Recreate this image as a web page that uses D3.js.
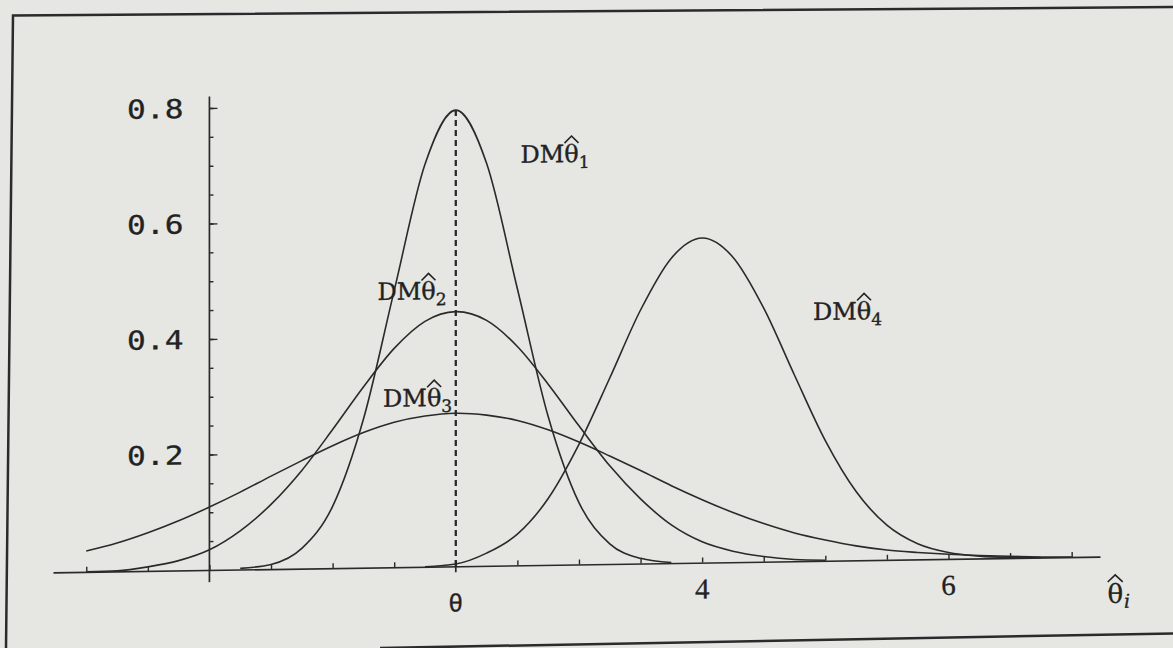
<!DOCTYPE html>
<html>
<head>
<meta charset="utf-8">
<script src="https://cdn.jsdelivr.net/npm/d3@7"></script>
<style>
  html, body { margin: 0; padding: 0; background: #e6e6e3; }
  svg { display: block; }
</style>
</head>
<body>
<svg id="chart" width="1173" height="648"></svg>
<script>
// Sampling densities of four estimators of θ (true value θ = 2).
// Each series: [estimate, density]
const dm1 = [[0.25,0.002],[0.5,0.008],[0.75,0.035],[1.0,0.107],[1.25,0.257],[1.5,0.479],[1.75,0.697],
             [2.0,0.79],[2.25,0.697],[2.5,0.479],[2.75,0.257],[3.0,0.107],[3.25,0.035],[3.5,0.009],[3.75,0.001]];
const dm2 = [[-1.0,0],[-0.75,0.001],[-0.5,0.007],[-0.25,0.017],[0,0.035],[0.25,0.067],[0.5,0.112],[0.75,0.170],
             [1.0,0.240],[1.25,0.313],[1.5,0.379],[1.75,0.425],[2.0,0.441],[2.25,0.425],[2.5,0.379],[2.75,0.313],
             [3.0,0.240],[3.25,0.170],[3.5,0.112],[3.75,0.066],[4.0,0.036],[4.25,0.019],[4.5,0.009],[4.75,0.003],[5.0,0.001]];
const dm3 = [[-1.0,0.036],[-0.75,0.049],[-0.5,0.066],[-0.25,0.086],[0,0.109],[0.25,0.134],[0.5,0.161],[0.75,0.187],
             [1.0,0.212],[1.25,0.234],[1.5,0.251],[1.75,0.261],[2.0,0.265],[2.25,0.261],[2.5,0.251],[2.75,0.234],
             [3.0,0.212],[3.25,0.187],[3.5,0.161],[3.75,0.134],[4.0,0.109],[4.25,0.086],[4.5,0.066],[4.75,0.049],
             [5.0,0.036],[5.25,0.025],[5.5,0.017],[5.75,0.012],[6.0,0.008],[6.25,0.005],[6.5,0.003],[6.75,0.001],[7.0,0]];
const dm4 = [[1.75,0],[2.0,0.004],[2.25,0.022],[2.5,0.054],[2.75,0.115],[3.0,0.208],[3.25,0.322],[3.5,0.439],
             [3.75,0.528],[4.0,0.562],[4.25,0.528],[4.5,0.439],[4.75,0.322],[5.0,0.208],[5.25,0.119],[5.5,0.060],
             [5.75,0.027],[6.0,0.011],[6.25,0.004],[6.5,0.001],[6.75,0]];

const thetaTrue = 2;
const xTickValues = d3.range(-1, 7.001, 0.5);
const xTickLabels = ["4", "6"];
const xTickLabelValues = [4, 6];
const yMajorTicks = [0.2, 0.4, 0.6, 0.8];
const yMinorTicks = d3.range(0.05, 0.801, 0.05);
const yTickLabels = ["0.2", "0.4", "0.6", "0.8"];
const seriesSubscripts = ["1", "2", "3", "4"];

// ---- drawing ----
const W = 1173, H = 648;
const ink = "#2a2a2a";
const textInk = "#222222";
const svg = d3.select("#chart");
svg.append("rect").attr("width", W).attr("height", H).attr("fill", "#e6e6e3");

const x = d3.scaleLinear().domain([-1.27, 7.23]).range([53, 1100]);
const y = d3.scaleLinear().domain([0, 0.8]).range([570, 108]);
const ox = x(0), oy = y(0);

// the printed figure sits slightly tilted on the page
const plot = svg.append("g")
  .attr("transform", `translate(${ox},${oy}) skewY(-0.86) translate(${-ox},${-oy})`);

// x axis with small upward ticks
plot.append("g")
  .attr("transform", `translate(0,${oy})`)
  .call(d3.axisBottom(x).tickValues(xTickValues).tickSizeInner(-5).tickSizeOuter(0).tickFormat(""))
  .call(g => {
    g.select(".domain").attr("stroke", ink).attr("stroke-width", 1.6);
    g.selectAll(".tick line").attr("stroke", ink).attr("stroke-width", 1.4);
  });

// y axis line
plot.append("line")
  .attr("x1", ox).attr("x2", ox)
  .attr("y1", y(0.82)).attr("y2", y(-0.021))
  .attr("stroke", ink).attr("stroke-width", 1.7);

// y ticks pointing right
plot.append("g").attr("transform", `translate(${ox},0)`)
  .call(d3.axisRight(y).tickValues(yMinorTicks).tickSize(4).tickFormat(""))
  .call(g => { g.select(".domain").remove(); g.selectAll(".tick line").attr("stroke", ink).attr("stroke-width", 1.4); });
plot.append("g").attr("transform", `translate(${ox},0)`)
  .call(d3.axisRight(y).tickValues(yMajorTicks).tickSize(8).tickFormat(""))
  .call(g => { g.select(".domain").remove(); g.selectAll(".tick line").attr("stroke", ink).attr("stroke-width", 1.4); });

// y tick labels in a wide typewriter face
plot.selectAll("text.ylab")
  .data(yMajorTicks)
  .join("text")
  .attr("class", "ylab")
  .attr("transform", d => `translate(${ox - 26},${y(d) + 9.5}) scale(1.2,1)`)
  .attr("text-anchor", "end")
  .attr("font-family", "DejaVu Sans Mono, Liberation Mono, monospace")
  .attr("font-size", 26)
  .attr("fill", textInk)
  .attr("stroke", textInk).attr("stroke-width", 0.3)
  .text((d, i) => yTickLabels[i]);

// x tick labels
plot.selectAll("text.xlab")
  .data(xTickLabelValues)
  .join("text")
  .attr("class", "xlab")
  .attr("x", d => x(d))
  .attr("y", oy + 36)
  .attr("text-anchor", "middle")
  .attr("font-family", "Liberation Serif, DejaVu Serif, serif")
  .attr("font-size", 29)
  .attr("fill", textInk)
  .attr("stroke", textInk).attr("stroke-width", 0.3)
  .text((d, i) => xTickLabels[i]);

// true value marker: dashed guide and crossing tick
const peak1 = d3.max(dm1, d => d[1]);
plot.append("line")
  .attr("x1", x(thetaTrue)).attr("x2", x(thetaTrue))
  .attr("y1", y(peak1)).attr("y2", oy)
  .attr("stroke", ink).attr("stroke-width", 2.3)
  .attr("stroke-dasharray", "6,4");
plot.append("line")
  .attr("x1", x(thetaTrue)).attr("x2", x(thetaTrue))
  .attr("y1", oy - 6).attr("y2", oy + 6)
  .attr("stroke", ink).attr("stroke-width", 1.7);
plot.append("text")
  .attr("x", x(thetaTrue)).attr("y", oy + 45)
  .attr("text-anchor", "middle")
  .attr("font-family", "Liberation Sans, Arial, sans-serif")
  .attr("font-size", 25)
  .attr("fill", textInk)
  .attr("stroke", textInk).attr("stroke-width", 0.3)
  .text("θ");

// density curves
const line = d3.line().x(d => x(d[0])).y(d => y(d[1])).curve(d3.curveMonotoneX);
[dm1, dm2, dm3, dm4].forEach(s => {
  plot.append("path")
    .attr("d", line(s))
    .attr("fill", "none")
    .attr("stroke", ink)
    .attr("stroke-width", 1.6)
    .attr("stroke-linejoin", "round");
});

// circumflex drawn over a glyph
function hat(g, cx, baseline, w, lift) {
  g.append("path")
    .attr("d", `M${cx - w / 2},${baseline - lift} L${cx},${baseline - lift - 7} L${cx + w / 2},${baseline - lift}`)
    .attr("fill", "none")
    .attr("stroke", textInk)
    .attr("stroke-width", 1.6)
    .attr("stroke-linejoin", "miter");
}

// series labels DMθ̂ᵢ
const labelAnchors = [[2.525, 0.697], [1.364, 0.463], [1.41, 0.278], [4.90, 0.417]];
labelAnchors.forEach((p, i) => {
  const lx = x(p[0]), ly = y(p[1]);
  const t = plot.append("text")
    .attr("x", lx).attr("y", ly)
    .attr("font-family", "DejaVu Serif, Liberation Serif, serif")
    .attr("font-size", 24)
    .attr("fill", textInk)
    .attr("stroke", textInk).attr("stroke-width", 0.35);
  t.append("tspan").text("DMθ");
  t.append("tspan").attr("font-size", 17).attr("dy", 6).text(seriesSubscripts[i]);
  const ext = t.node().getExtentOfChar(2);
  hat(plot, ext.x + ext.width / 2, ly, 14, 19);
});

// axis title θ̂ᵢ
{
  const tx = x(7.29), ty = oy + 46.5;
  const t = plot.append("text")
    .attr("x", tx).attr("y", ty)
    .attr("font-family", "DejaVu Serif, Liberation Serif, serif")
    .attr("font-size", 26)
    .attr("fill", textInk)
    .attr("stroke", textInk).attr("stroke-width", 0.3);
  t.append("tspan").text("θ");
  t.append("tspan").attr("font-size", 19).attr("font-style", "italic").attr("dy", 5).attr("dx", 1).text("i");
  const ext = t.node().getExtentOfChar(0);
  hat(plot, ext.x + ext.width / 2, ty, 15, 21);
}

// page frame around the figure
svg.append("path")
  .attr("d", "M1173,7 L13,15.5 L6,648")
  .attr("fill", "none").attr("stroke", "#2b2b2b").attr("stroke-width", 2.5);
svg.append("path")
  .attr("d", "M380,648 L1173,633.5")
  .attr("fill", "none").attr("stroke", "#2b2b2b").attr("stroke-width", 2.5);
</script>
</body>
</html>
